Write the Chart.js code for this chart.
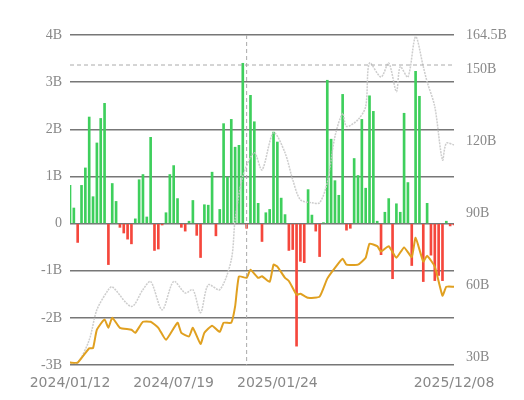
<!DOCTYPE html>
<html>
<head>
<meta charset="UTF-8">
<script src="https://cdn.jsdelivr.net/npm/chart.js"></script>
<style>
  html, body { margin: 0; padding: 0; background: #fff; }
  #wrap { width: 524px; height: 400px; }
</style>
</head>
<body>
<div id="wrap"><canvas id="c"></canvas></div>
<script>
  // weekly flows (B), left axis
  const flows = [0.81,0.33,-0.4,0.81,1.18,2.26,0.57,1.71,2.23,2.55,
    -0.87,0.85,0.47,-0.08,-0.2,-0.33,-0.43,0.1,0.93,1.04,
    0.14,1.83,-0.57,-0.54,-0.03,0.23,1.04,1.23,0.53,-0.08,
    -0.16,0.05,0.49,-0.25,-0.72,0.4,0.39,1.09,-0.26,0.3,
    2.12,0.99,2.21,1.62,1.66,3.4,-0.1,2.72,2.16,0.43,
    -0.38,0.23,0.3,1.94,1.73,0.54,0.19,-0.57,-0.55,-2.6,
    -0.8,-0.83,0.72,0.18,-0.16,-0.7,0.02,3.04,1.79,0.91,
    0.6,2.74,-0.14,-0.1,1.38,1.02,2.21,0.75,2.71,2.38,
    0.05,-0.66,0.24,0.53,-1.17,0.42,0.24,2.34,0.87,-0.89,
    3.23,2.7,-1.23,0.43,-0.67,-1.21,-1.1,-1.21,0.05,-0.05,-0.03];

  // [week index, value B] right axis
  const goldPts = [[0,28],[2,28],[5,34],[6,34],[7,41.7],[9,46],[10,42.5],[11,46.7],[13,42.5],[16,41.7],
    [17,40.4],[19,45],[21,45],[23,42.5],[25,37.5],[28,44.6],[29,40.4],[31,38.9],[32,42.5],[34,35.8],
    [35,40.4],[37,43.4],[39,40.8],[40,44.6],[42,44.6],[43,51.4],[44,63.9],[46,63.3],[47,66.7],[49,63.3],
    [50,64],[52,61.7],[53,68.8],[54,68],[56,63.3],[57,62],[59,56.3],[60,56.7],[62,55],[65,55.5],
    [67,63],[69,67.5],[71,71.3],[72,68.8],[75,68.8],[77,71.7],[78,77.5],[80,76.5],[81,74.3],[83,76.5],
    [85,71.7],[87,76],[89,72],[90,80],[92,70.1],[93,72.5],[95,68],[97,55.9],[98,59.6],[100,59.6]];

  const whitePts = [[0,28],[2,28],[5,37.4],[7,50],[10,58.4],[11,59.6],[16,51.4],[19,58.4],[21,61.8],[24,50],
    [27,61.8],[30,57],[32,58.4],[34,48.8],[36,60.4],[39,58.4],[42,70.8],[43,87.5],[45,105.6],[48,115.4],
    [50,108.3],[53,123.8],[56,115.4],[58,104.2],[60,95.9],[63,94.6],[65,94.6],[67,103],[69,122.2],[71,131.8],
    [72,126.4],[75,129.2],[77,134.7],[78,152.8],[81,147],[83,152.8],[85,140.9],[86,151.3],[88,147],[90,163.8],
    [92,151.3],[93,145],[95,134.6],[97,112.4],[98,119.4],[100,118.7]];

  const tickLabels = ['2024/01/12', '2024/07/19', '2025/01/24', '2025/12/08'];
  const rightTicks = [30, 60, 90, 120, 150, 164.5];
  const leftTicks = [-3, -2, -1, 0, 1, 2, 3, 4];
  const markerIndex = 46;
  const markerLevel = 152;

  // weekly dates from first label
  const labels = [];
  const start = new Date(2024, 0, 12);
  for (let i = 0; i < flows.length; i++) {
    const d = new Date(start.getTime() + i * 7 * 86400000);
    labels.push(d.getFullYear() + '/' + String(d.getMonth() + 1).padStart(2, '0') + '/' + String(d.getDate()).padStart(2, '0'));
  }
  labels[labels.length - 1] = tickLabels[3];
  const tickIdx = [0, 27, 54, labels.length - 1];

  const toXY = pts => pts.map(p => ({ x: labels[p[0]], y: p[1] }));

  const guides = {
    id: 'guides',
    afterDatasetsDraw(chart) {
      const { ctx, chartArea, scales } = chart;
      const x = scales.x.getPixelForValue(markerIndex);
      const y = scales.y1.getPixelForValue(markerLevel);
      ctx.save();
      ctx.strokeStyle = '#aaa';
      ctx.lineWidth = 1;
      ctx.setLineDash([4, 3]);
      ctx.beginPath();
      ctx.moveTo(x, chartArea.top);
      ctx.lineTo(x, chartArea.bottom);
      ctx.moveTo(chartArea.left, y);
      ctx.lineTo(chartArea.right, y);
      ctx.stroke();
      ctx.restore();
    }
  };

  new Chart(document.getElementById('c'), {
    data: {
      labels: labels,
      datasets: [
        {
          type: 'line', data: toXY(goldPts), yAxisID: 'y1',
          borderColor: '#e0a020', borderWidth: 2, pointRadius: 0, tension: 0.15, order: 1
        },
        {
          type: 'line', data: toXY(whitePts), yAxisID: 'y1',
          borderColor: 'rgba(200,200,200,0.9)', borderWidth: 1.5, borderDash: [2, 1],
          pointRadius: 0, tension: 0.3, order: 2
        },
        {
          type: 'bar', data: flows, yAxisID: 'y',
          backgroundColor: ctx => ctx.raw >= 0 ? '#3ecf5c' : '#f5473c',
          barThickness: 2, order: 3
        }
      ]
    },
    options: {
      responsive: true,
      maintainAspectRatio: false,
      animation: false,
      layout: { padding: { top: 35, right: 0, left: 0, bottom: 0 } },
      plugins: { legend: { display: false }, tooltip: { enabled: false } },
      scales: {
        x: {
          offset: false,
          grid: { display: false },
          border: { display: false },
          ticks: {
            autoSkip: false, maxRotation: 0, color: '#888', padding: 2,
            font: { family: 'DejaVu Sans', size: 14 },
            callback: (v, i) => tickIdx.includes(i) ? labels[i] : null
          },
          afterFit: s => { s.height = 35; }
        },
        y: {
          position: 'left', min: -3, max: 4,
          afterBuildTicks: s => { s.ticks = leftTicks.map(v => ({ value: v })); },
          grid: { color: '#777', lineWidth: 1.5, drawTicks: false },
          border: { display: false },
          ticks: { color: '#888', padding: 8, font: { family: 'Liberation Serif', size: 14 },
            callback: v => v === 0 ? '0' : v + 'B' },
          afterFit: s => { s.width = 70; }
        },
        y1: {
          position: 'right', min: 27, max: 164.5,
          afterBuildTicks: s => { s.ticks = rightTicks.map(v => ({ value: v })); },
          grid: { display: false },
          border: { display: false },
          ticks: { color: '#888', padding: 4, font: { family: 'Liberation Serif', size: 14 },
            callback: v => v + 'B' },
          afterFit: s => { s.width = 70; }
        }
      }
    },
    plugins: [guides]
  });
</script>
</body>
</html>
